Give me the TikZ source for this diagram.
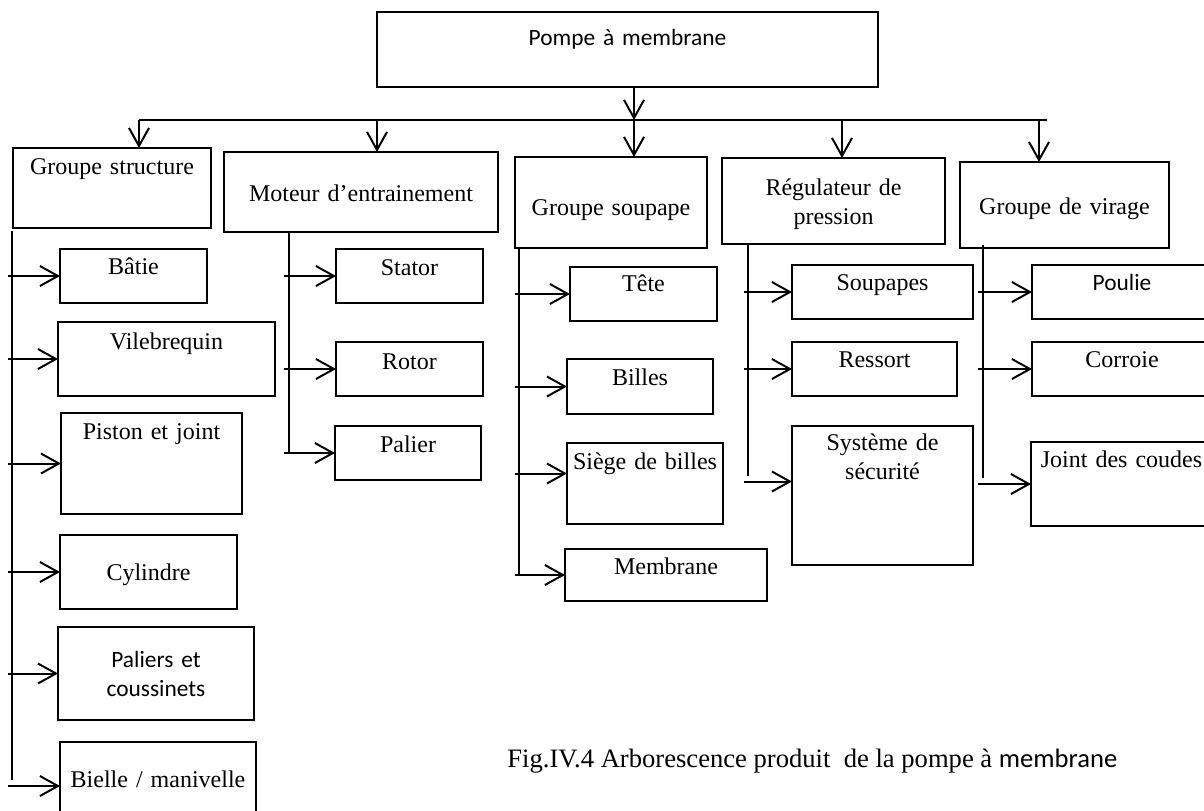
\documentclass[tikz,border=0pt]{standalone}
\usepackage{fontspec}
\setmainfont{Liberation Serif}
\newfontfamily\calibri{Carlito}
\usetikzlibrary{arrows.meta}

\begin{document}
\begin{tikzpicture}[
    x=0.5pt, y=-0.5pt,
    bloc/.style={draw=black, line width=0.8pt, rectangle, anchor=north west,
        inner sep=0pt, outer sep=0pt, align=center,
        font=\fontsize{12}{14.5}\selectfont},
    bloccal/.style={bloc, font=\calibri\fontsize{11.7}{14.5}\selectfont},
    taille/.style n args={3}{text width=#1pt, text height=#2pt, text depth=#3pt},
    tronc/.style={line width=1pt},
    fleche/.style={line width=1pt,
        -{Straight Barb[length=9pt, width=10pt, line width=1pt]}}
]
    \clip (0,0) rectangle (1204,810);

    \node[bloccal, taille={250.5}{16.5}{21}] (pompe) at (377,12) {Pompe à membrane};

    \node[bloc, taille={99}{13}{27}] (structure) at (13,148) {Groupe structure};
    \node[bloc, taille={137}{24.5}{15.5}] (moteur) at (224,152) {Moteur d’entrainement};
    \node[bloc, taille={96}{29}{16.5}] (soupape) at (515,157) {Groupe soupape};
    \node[bloc, taille={111.5}{18.5}{24.5}] (regulateur) at (722,158) {Régulateur de\\pression};
    \node[bloc, taille={104.5}{26}{17}] (virage) at (960,162) {Groupe de virage};

    \node[bloc, taille={73.5}{12.5}{14.5}] (batie) at (60,249) {Bâtie};
    \node[bloc, taille={108.5}{13.5}{23.5}] (vilebrequin) at (58,322) {Vilebrequin};
    \node[bloc, taille={90.5}{13}{37.5}] (piston) at (61,413) {Piston et joint};
    \node[bloc, taille={88.5}{22.5}{14.5}] (cylindre) at (60,535) {Cylindre};
    \node[bloccal, taille={98}{20}{26.5}] (paliers) at (58,627) {Paliers et\\coussinets};
    \node[bloc, taille={98}{22.5}{21.5}] (bielle) at (60,742) {Bielle / manivelle};

    \node[bloc, taille={73.5}{13}{14}] (stator) at (336,249) {Stator};
    \node[bloc, taille={73.5}{13.5}{13.5}] (rotor) at (336,342) {Rotor};
    \node[bloc, taille={73}{13}{14}] (palier) at (335,426) {Palier};

    \node[bloc, taille={73.5}{12}{15}] (tete) at (570,267) {Tête};
    \node[bloc, taille={73}{13}{14.5}] (billes) at (567,359) {Billes};
    \node[bloc, taille={78}{13}{27.5}] (siege) at (567,443) {Siège de billes};
    \node[bloc, taille={101}{12.5}{13.5}] (membrane) at (565,549) {Membrane};

    \node[bloc, taille={90.5}{12.5}{14.5}] (soupapes) at (792,265) {Soupapes};
    \node[bloc, taille={82.5}{12.5}{14.5}] (ressort) at (792,342) {Ressort};
    \node[bloc, taille={90.5}{12}{57.5}] (securite) at (792,426) {Système de\\sécurité};

    \node[bloccal, taille={90}{12.5}{14.5}] (poulie) at (1032,265) {Poulie};
    \node[bloc, taille={90}{12.5}{14.5}] (corroie) at (1032,342) {Corroie};
    \node[bloc, taille={90.5}{12.5}{29.5}] (joint) at (1031,442) {Joint des coudes};

    \node[anchor=west, inner sep=0pt, font=\fontsize{13.3}{16}\selectfont] (legende)
        at (507,761) {Fig.IV.4 Arborescence produit\ \ de la pompe à {\calibri membrane}};

    \coordinate (b1) at (139,120);
    \coordinate (b2) at (377,120);
    \coordinate (b3) at (634,120);
    \coordinate (b4) at (842,120);
    \coordinate (b5) at (1039,120);
    \coordinate (busd) at (1047,120);
    \draw[tronc] (b1) -- (busd);
    \draw[fleche] (pompe.south -| b3) -- (b3);
    \foreach \b/\n in {b1/structure, b2/moteur, b3/soupape, b4/regulateur, b5/virage}
        \draw[fleche] (\b) -- (\b |- \n.north);

    \coordinate (ts) at (12,231);
    \coordinate (tm) at (289,231);
    \coordinate (tp) at (519,249);
    \coordinate (tr) at (748,244);
    \coordinate (tv) at (983,245);
    \path ([yshift=5pt]siege.west) coordinate (siege-e)
        ([yshift=7pt]securite.west) coordinate (securite-e);

    \draw[tronc, shorten >=3pt] (ts) -- (ts |- bielle.west);
    \draw[tronc] (tm) -- (tm |- palier.west);
    \draw[tronc] (tp) -- (tp |- membrane.west);
    \draw[tronc, shorten >=3pt] (tr) -- (tr |- securite-e);
    \draw[tronc, shorten >=3pt] (tv) -- (tv |- joint.west);

    \foreach \n in {batie, vilebrequin, piston, cylindre, paliers, bielle}
        \draw[fleche, shorten <=-2pt] (ts |- \n.west) -- (\n.west);
    \foreach \n in {stator, rotor, palier}
        \draw[fleche, shorten <=-2.5pt] (tm |- \n.west) -- (\n.west);
    \foreach \n in {tete, billes, siege-e, membrane}
        \draw[fleche, shorten <=-2pt] (tp |- \n.west) -- (\n.west);
    \foreach \n in {soupapes, ressort, securite-e}
        \draw[fleche, shorten <=-2pt] (tr |- \n.west) -- (\n.west);
    \foreach \n in {poulie, corroie, joint}
        \draw[fleche, shorten <=-2.5pt] (tv |- \n.west) -- (\n.west);
\end{tikzpicture}
\end{document}
